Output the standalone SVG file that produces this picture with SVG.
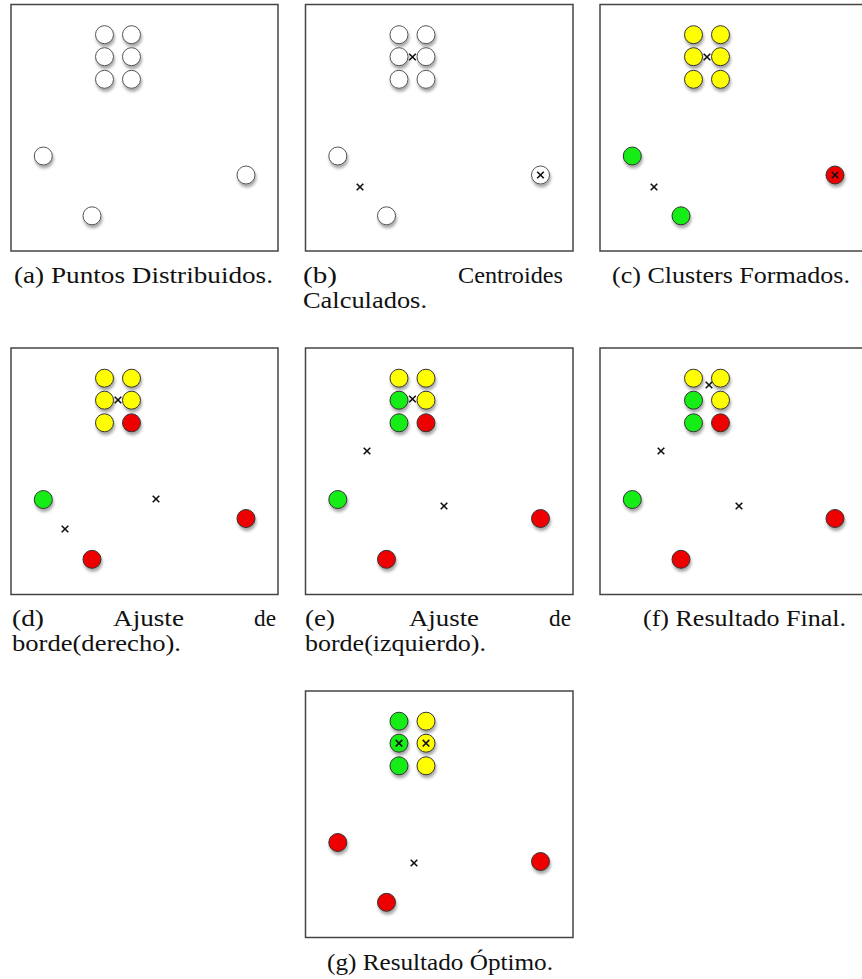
<svg xmlns="http://www.w3.org/2000/svg" xmlns:xlink="http://www.w3.org/1999/xlink" width="862" height="979" viewBox="0 0 862 979">
  <style>
    .frame { fill: #fff; stroke: #444; stroke-width: 1.5; }
    .pt { stroke: #333; stroke-width: 1; filter: url(#shadow); }
    .w { fill: #fff; stroke: #555; }
    .y { fill: #ffff00; }
    .g { fill: #16ec16; }
    .r { fill: #ee0000; }
    .cross { fill: none; stroke: #111; stroke-width: 1.6; }
    .cap { font-family: "Liberation Serif", "Times New Roman", serif; font-size: 23px; fill: #111; }
  </style>
  <defs>
    <filter id="shadow" x="-50%" y="-50%" width="200%" height="220%">
      <feDropShadow dx="1" dy="3" stdDeviation="1.8" flood-color="#000" flood-opacity="0.35"/>
    </filter>
    <path id="x" class="cross" d="M-3.3,-3.3L3.3,3.3M3.3,-3.3L-3.3,3.3"/>
  </defs>
  <rect width="862" height="979" fill="#fff"/>

  <!-- (a) points only -->
  <g id="panel-a" transform="translate(11,4.5)">
    <rect class="frame" x="0" y="0" width="267" height="246.5"/>
    <circle class="pt w" cx="93.5" cy="30.2" r="9"/>
    <circle class="pt w" cx="120.5" cy="30.2" r="9"/>
    <circle class="pt w" cx="93.5" cy="52.2" r="9"/>
    <circle class="pt w" cx="120.5" cy="52.2" r="9"/>
    <circle class="pt w" cx="93.5" cy="74.8" r="9"/>
    <circle class="pt w" cx="120.5" cy="74.8" r="9"/>
    <circle class="pt w" cx="32.3" cy="151.5" r="9"/>
    <circle class="pt w" cx="235" cy="170.5" r="9"/>
    <circle class="pt w" cx="81" cy="211.3" r="9"/>
  </g>

  <!-- (b) initial centroids -->
  <g id="panel-b" transform="translate(305.5,4.5)">
    <rect class="frame" x="0" y="0" width="267.5" height="246.5"/>
    <circle class="pt w" cx="93.5" cy="30.2" r="9"/>
    <circle class="pt w" cx="120.5" cy="30.2" r="9"/>
    <circle class="pt w" cx="93.5" cy="52.2" r="9"/>
    <circle class="pt w" cx="120.5" cy="52.2" r="9"/>
    <circle class="pt w" cx="93.5" cy="74.8" r="9"/>
    <circle class="pt w" cx="120.5" cy="74.8" r="9"/>
    <circle class="pt w" cx="32.3" cy="151.5" r="9"/>
    <circle class="pt w" cx="235" cy="170.5" r="9"/>
    <circle class="pt w" cx="81" cy="211.3" r="9"/>
    <use xlink:href="#x" x="107" y="52.5"/>
    <use xlink:href="#x" x="54.5" y="182.5"/>
    <use xlink:href="#x" x="235" y="170.5"/>
  </g>

  <!-- (c) first assignment -->
  <g id="panel-c" transform="translate(600,4.5)">
    <rect class="frame" x="0" y="0" width="267" height="246.5"/>
    <circle class="pt y" cx="93.5" cy="30.2" r="9"/>
    <circle class="pt y" cx="120.5" cy="30.2" r="9"/>
    <circle class="pt y" cx="93.5" cy="52.2" r="9"/>
    <circle class="pt y" cx="120.5" cy="52.2" r="9"/>
    <circle class="pt y" cx="93.5" cy="74.8" r="9"/>
    <circle class="pt y" cx="120.5" cy="74.8" r="9"/>
    <circle class="pt g" cx="32.3" cy="151.5" r="9"/>
    <circle class="pt r" cx="235" cy="170.5" r="9"/>
    <circle class="pt g" cx="81" cy="211.3" r="9"/>
    <use xlink:href="#x" x="107" y="52.5"/>
    <use xlink:href="#x" x="54" y="182.5"/>
    <use xlink:href="#x" x="235" y="170.5"/>
  </g>

  <!-- (d) right border adjustment -->
  <g id="panel-d" transform="translate(11,348)">
    <rect class="frame" x="0" y="0" width="267" height="246.5"/>
    <circle class="pt y" cx="93.5" cy="30.2" r="9"/>
    <circle class="pt y" cx="120.5" cy="30.2" r="9"/>
    <circle class="pt y" cx="93.5" cy="52.2" r="9"/>
    <circle class="pt y" cx="120.5" cy="52.2" r="9"/>
    <circle class="pt y" cx="93.5" cy="74.8" r="9"/>
    <circle class="pt r" cx="120.5" cy="74.8" r="9"/>
    <circle class="pt g" cx="32.3" cy="151.5" r="9"/>
    <circle class="pt r" cx="235" cy="170.5" r="9"/>
    <circle class="pt r" cx="81" cy="211.3" r="9"/>
    <use xlink:href="#x" x="107" y="52"/>
    <use xlink:href="#x" x="54" y="181"/>
    <use xlink:href="#x" x="145" y="151"/>
  </g>

  <!-- (e) left border adjustment -->
  <g id="panel-e" transform="translate(305.5,348)">
    <rect class="frame" x="0" y="0" width="267.5" height="246.5"/>
    <circle class="pt y" cx="93.5" cy="30.2" r="9"/>
    <circle class="pt y" cx="120.5" cy="30.2" r="9"/>
    <circle class="pt g" cx="93.5" cy="52.2" r="9"/>
    <circle class="pt y" cx="120.5" cy="52.2" r="9"/>
    <circle class="pt g" cx="93.5" cy="74.8" r="9"/>
    <circle class="pt r" cx="120.5" cy="74.8" r="9"/>
    <circle class="pt g" cx="32.3" cy="151.5" r="9"/>
    <circle class="pt r" cx="235" cy="170.5" r="9"/>
    <circle class="pt r" cx="81" cy="211.3" r="9"/>
    <use xlink:href="#x" x="107" y="51"/>
    <use xlink:href="#x" x="61.5" y="103"/>
    <use xlink:href="#x" x="138.5" y="158"/>
  </g>

  <!-- (f) final result -->
  <g id="panel-f" transform="translate(600,348)">
    <rect class="frame" x="0" y="0" width="267" height="246.5"/>
    <circle class="pt y" cx="93.5" cy="30.2" r="9"/>
    <circle class="pt y" cx="120.5" cy="30.2" r="9"/>
    <circle class="pt g" cx="93.5" cy="52.2" r="9"/>
    <circle class="pt y" cx="120.5" cy="52.2" r="9"/>
    <circle class="pt g" cx="93.5" cy="74.8" r="9"/>
    <circle class="pt r" cx="120.5" cy="74.8" r="9"/>
    <circle class="pt g" cx="32.3" cy="151.5" r="9"/>
    <circle class="pt r" cx="235" cy="170.5" r="9"/>
    <circle class="pt r" cx="81" cy="211.3" r="9"/>
    <use xlink:href="#x" x="109" y="37"/>
    <use xlink:href="#x" x="61" y="103"/>
    <use xlink:href="#x" x="139" y="158"/>
  </g>

  <!-- (g) optimal result -->
  <g id="panel-g" transform="translate(305.5,691)">
    <rect class="frame" x="0" y="0" width="267.5" height="246.5"/>
    <circle class="pt g" cx="93.5" cy="30.2" r="9"/>
    <circle class="pt y" cx="120.5" cy="30.2" r="9"/>
    <circle class="pt g" cx="93.5" cy="52.2" r="9"/>
    <circle class="pt y" cx="120.5" cy="52.2" r="9"/>
    <circle class="pt g" cx="93.5" cy="74.8" r="9"/>
    <circle class="pt y" cx="120.5" cy="74.8" r="9"/>
    <circle class="pt r" cx="32.3" cy="151.5" r="9"/>
    <circle class="pt r" cx="235" cy="170.5" r="9"/>
    <circle class="pt r" cx="81" cy="211.3" r="9"/>
    <use xlink:href="#x" x="93.5" y="52.2"/>
    <use xlink:href="#x" x="120.5" y="52.2"/>
    <use xlink:href="#x" x="108.5" y="172"/>
  </g>

  <!-- sub-captions -->
  <g id="captions" class="cap">
    <text x="14" y="283" textLength="259" lengthAdjust="spacingAndGlyphs">(a) Puntos Distribuidos.</text>
    <text x="303" y="283" textLength="34" lengthAdjust="spacingAndGlyphs">(b)</text>
    <text x="458" y="283" textLength="105" lengthAdjust="spacingAndGlyphs">Centroides</text>
    <text x="303" y="308" textLength="124" lengthAdjust="spacingAndGlyphs">Calculados.</text>
    <text x="612" y="283" textLength="238" lengthAdjust="spacingAndGlyphs">(c) Clusters Formados.</text>

    <text x="12" y="626" textLength="32" lengthAdjust="spacingAndGlyphs">(d)</text>
    <text x="113" y="626" textLength="71" lengthAdjust="spacingAndGlyphs">Ajuste</text>
    <text x="254" y="626" textLength="22" lengthAdjust="spacingAndGlyphs">de</text>
    <text x="12" y="651" textLength="169" lengthAdjust="spacingAndGlyphs">borde(derecho).</text>
    <text x="305" y="626" textLength="30" lengthAdjust="spacingAndGlyphs">(e)</text>
    <text x="409" y="626" textLength="70" lengthAdjust="spacingAndGlyphs">Ajuste</text>
    <text x="549" y="626" textLength="22" lengthAdjust="spacingAndGlyphs">de</text>
    <text x="305" y="651" textLength="181" lengthAdjust="spacingAndGlyphs">borde(izquierdo).</text>
    <text x="643" y="626" textLength="203" lengthAdjust="spacingAndGlyphs">(f) Resultado Final.</text>

    <text x="327" y="970" textLength="226" lengthAdjust="spacingAndGlyphs">(g) Resultado Óptimo.</text>
  </g>
</svg>
